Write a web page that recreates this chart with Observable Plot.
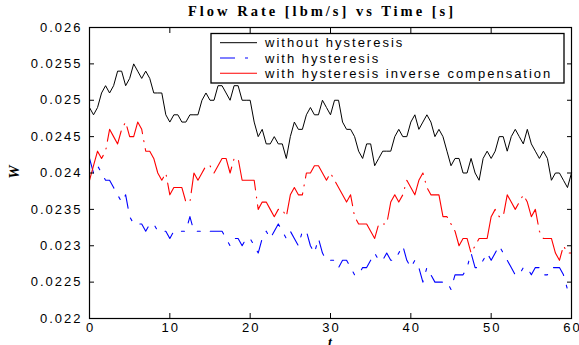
<!DOCTYPE html>
<html><head><meta charset="utf-8">
<script src="https://cdn.jsdelivr.net/npm/d3@7"></script>
<script src="https://cdn.jsdelivr.net/npm/@observablehq/plot@0.6"></script>
<style>body{margin:0;background:#fff}</style>
</head><body><div id="chart"></div>
<script>
const titleText = "Flow Rate [lbm/s] vs Time [s]";
const xLabel = "t";
const yLabel = "W";
const seriesNames = ["without hysteresis", "with hysteresis", "with hysteresis inverse compensation"];
const seriesColors = ["#000000", "#0000ff", "#ff0000"];
const xTicks = [0, 10, 20, 30, 40, 50, 60];
const xTickLabels = ["0", "10", "20", "30", "40", "50", "60"];
const yTicks = [0.022, 0.0225, 0.023, 0.0235, 0.024, 0.0245, 0.025, 0.0255, 0.026];
const yTickLabels = ["0.022", "0.0225", "0.023", "0.0235", "0.024", "0.0245", "0.025", "0.0255", "0.026"];

const time = [
 0,0.5,1,1.5,2,2.5,3,3.5,4,4.5, 5,5.5,6,6.5,7,7.5,8,8.5,9,9.5,
 10,10.5,11,11.5,12,12.5,13,13.5,14,14.5, 15,15.5,16,16.5,17,17.5,18,18.5,19,19.5,
 20,20.5,21,21.5,22,22.5,23,23.5,24,24.5, 25,25.5,26,26.5,27,27.5,28,28.5,29,29.5,
 30,30.5,31,31.5,32,32.5,33,33.5,34,34.5, 35,35.5,36,36.5,37,37.5,38,38.5,39,39.5,
 40,40.5,41,41.5,42,42.5,43,43.5,44,44.5, 45,45.5,46,46.5,47,47.5,48,48.5,49,49.5,
 50,50.5,51,51.5,52,52.5,53,53.5,54,54.5, 55,55.5,56,56.5,57,57.5,58,58.5,59,59.5,
 60];

const withoutHyst = [
 0.0249,0.0248,0.0249,0.0251,0.0252,0.0251,0.0252,0.0254,0.0254,0.0252,
 0.0253,0.0255,0.0254,0.0253,0.0254,0.0253,0.0251,0.0251,0.0251,0.0248,
 0.0247,0.0248,0.0248,0.0247,0.0247,0.0248,0.0248,0.0248,0.0250,0.0251,
 0.0250,0.0250,0.0252,0.0252,0.0251,0.0250,0.0252,0.0252,0.0250,0.0250,
 0.0250,0.0247,0.0245,0.0246,0.0244,0.0244,0.0245,0.0244,0.0244,0.0242,
 0.0245,0.0247,0.0246,0.0246,0.0248,0.0249,0.0248,0.0248,0.0250,0.0249,
 0.0248,0.0250,0.0250,0.0247,0.0246,0.0246,0.0245,0.0243,0.0242,0.0244,
 0.0244,0.0241,0.0242,0.0243,0.0243,0.0243,0.0245,0.0246,0.0245,0.0245,
 0.0247,0.0248,0.0246,0.0247,0.0248,0.0247,0.0245,0.0246,0.0245,0.0243,
 0.0241,0.0242,0.0242,0.0240,0.0240,0.0242,0.0240,0.0239,0.0242,0.0243,
 0.0242,0.0243,0.0245,0.0245,0.0243,0.0245,0.0246,0.0245,0.0244,0.0246,
 0.0244,0.0243,0.0242,0.0243,0.0242,0.0239,0.0240,0.0240,0.0239,0.0238,
 0.0240];

const withHyst = [
 0.0242,0.0240,0.0241,0.0240,0.0239,0.0239,0.0238,0.0237,0.0236,0.0237,
 0.0234,0.0233,0.0233,0.0233,0.0232,0.0233,0.0233,0.0232,0.0232,0.0232,
 0.0231,0.0232,0.0232,0.0232,0.0232,0.0234,0.0232,0.0232,0.0232,0.0232,
 0.0232,0.0232,0.0232,0.0232,0.0231,0.0230,0.0231,0.0231,0.0230,0.0231,
 0.0231,0.0230,0.0229,0.0231,0.0232,0.0231,0.0232,0.0233,0.0232,0.0231,
 0.0232,0.0231,0.0230,0.0232,0.0232,0.0230,0.0229,0.0231,0.0229,0.0228,
 0.0228,0.0228,0.0227,0.0228,0.0228,0.0227,0.0226,0.0226,0.0227,0.0227,
 0.0228,0.0229,0.0228,0.0228,0.0229,0.0228,0.0228,0.0229,0.0230,0.0228,
 0.0227,0.0228,0.0227,0.0225,0.0227,0.0226,0.0225,0.0225,0.0225,0.0225,
 0.0224,0.0226,0.0226,0.0226,0.0227,0.0229,0.0227,0.0227,0.0228,0.0229,
 0.0228,0.0229,0.0230,0.0229,0.0228,0.0227,0.0226,0.0226,0.0227,0.0227,
 0.0226,0.0227,0.0227,0.0226,0.0226,0.0227,0.0227,0.0227,0.0226,0.0224,
 0.0224];

const withComp = [
 0.0239,0.0241,0.0243,0.0242,0.0243,0.0246,0.0245,0.0244,0.0246,0.0247,
 0.0245,0.0245,0.0247,0.0246,0.0243,0.0243,0.0242,0.0240,0.0239,0.0240,
 0.0237,0.0238,0.0238,0.0238,0.0236,0.0236,0.0240,0.0239,0.0240,0.0241,
 0.0241,0.0240,0.0241,0.0242,0.0242,0.0240,0.0242,0.0242,0.0239,0.0239,
 0.0239,0.0239,0.0235,0.0236,0.0236,0.0235,0.0234,0.0235,0.0235,0.0234,
 0.0237,0.0238,0.0237,0.0237,0.0240,0.0240,0.0241,0.0241,0.0240,0.0239,
 0.0240,0.0239,0.0238,0.0237,0.0236,0.0237,0.0234,0.0233,0.0233,0.0233,
 0.0232,0.0231,0.0233,0.0233,0.0233,0.0236,0.0237,0.0236,0.0237,0.0239,
 0.0238,0.0237,0.0239,0.0240,0.0238,0.0237,0.0237,0.0237,0.0234,0.0234,
 0.0233,0.0232,0.0230,0.0231,0.0231,0.0229,0.0230,0.0231,0.0231,0.0231,
 0.0234,0.0235,0.0234,0.0234,0.0237,0.0236,0.0235,0.0236,0.0237,0.0236,
 0.0234,0.0235,0.0232,0.0231,0.0231,0.0231,0.0229,0.0228,0.0230,0.0229,
 0.0229];

const seriesValues = [withoutHyst, withHyst, withComp];
const seriesDash = [null, "15,10,3,10", "42,7,1,7"];
const seriesWidth = [1, 1.1, 1.1];

const rows = vals => time.map((t, i) => ({t, v: vals[i]}));
const fmtX = d => xTickLabels[xTicks.indexOf(d)];
const fmtY = d => yTickLabels[yTicks.indexOf(d)];
const blank = () => "";

const chart = Plot.plot({
  width: 579, height: 345,
  marginLeft: 89, marginRight: 8, marginTop: 27, marginBottom: 27,
  style: {fontFamily: "'Liberation Sans', Arial, sans-serif", fontSize: "13px", letterSpacing: "2px", background: "white", color: "black", overflow: "visible"},
  x: {domain: [0, 60], label: null},
  y: {domain: [0.022, 0.026], label: null},
  marks: [
    ...seriesValues.map((vals, k) => Plot.line(rows(vals), {x: "t", y: "v", stroke: seriesColors[k], strokeWidth: seriesWidth[k], strokeDasharray: seriesDash[k]})),
    Plot.frame({stroke: "black", strokeWidth: 1.2}),
    Plot.axisX(xTicks, {anchor: "bottom", tickSize: 0, tickPadding: 4, tickFormat: fmtX, label: null, dx: 1, fill: "black"}),
    Plot.axisX(xTicks, {anchor: "bottom", tickSize: 5, dy: -5, tickFormat: blank, label: null, stroke: "black"}),
    Plot.axisX(xTicks, {anchor: "top", tickSize: 5, dy: 5, tickFormat: blank, label: null, stroke: "black"}),
    Plot.axisY(yTicks, {anchor: "left", tickSize: 0, tickPadding: 7, tickFormat: fmtY, label: null, fill: "black"}),
    Plot.axisY(yTicks, {anchor: "left", tickSize: 5, dx: 5, tickFormat: blank, label: null, stroke: "black"}),
    Plot.axisY(yTicks, {anchor: "right", tickSize: 5, dx: -5, tickFormat: blank, label: null, stroke: "black"})
  ]
});
document.getElementById("chart").appendChild(chart);

const svg = d3.select(chart);
// title
svg.append("text")
  .attr("x", 322).attr("y", 16)
  .attr("text-anchor", "middle")
  .style("font-family", "'Liberation Serif', 'Times New Roman', serif")
  .style("font-weight", "bold").style("font-size", "14.5px").style("letter-spacing", "3px")
  .text(titleText);
// axis labels
svg.append("text")
  .attr("transform", "translate(19,172) rotate(-90)")
  .attr("text-anchor", "middle")
  .style("font-family", "'Liberation Serif', 'Times New Roman', serif")
  .style("font-weight", "bold").style("font-style", "italic").style("font-size", "15px").style("letter-spacing", "0px")
  .text(yLabel);
svg.append("text")
  .attr("x", 330).attr("y", 347)
  .attr("text-anchor", "middle")
  .style("font-family", "'Liberation Serif', 'Times New Roman', serif")
  .style("font-weight", "bold").style("font-style", "italic").style("font-size", "14px").style("letter-spacing", "0px")
  .text(xLabel);
// legend
const lg = svg.append("g");
lg.append("rect").attr("x", 211).attr("y", 33.5).attr("width", 353).attr("height", 49.5)
  .attr("fill", "white").attr("stroke", "black").attr("stroke-width", 1.3);
seriesNames.forEach((name, k) => {
  const yy = 42.7 + k * 15.3;
  lg.append("line").attr("x1", 220).attr("x2", 257).attr("y1", yy).attr("y2", yy)
    .attr("stroke", seriesColors[k]).attr("stroke-width", seriesWidth[k])
    .attr("stroke-dasharray", seriesDash[k]);
  lg.append("text").attr("x", 265).attr("y", yy).attr("dy", "0.35em")
    .attr("text-anchor", "start").attr("fill", "black").text(name);
});
</script>
</body></html>
